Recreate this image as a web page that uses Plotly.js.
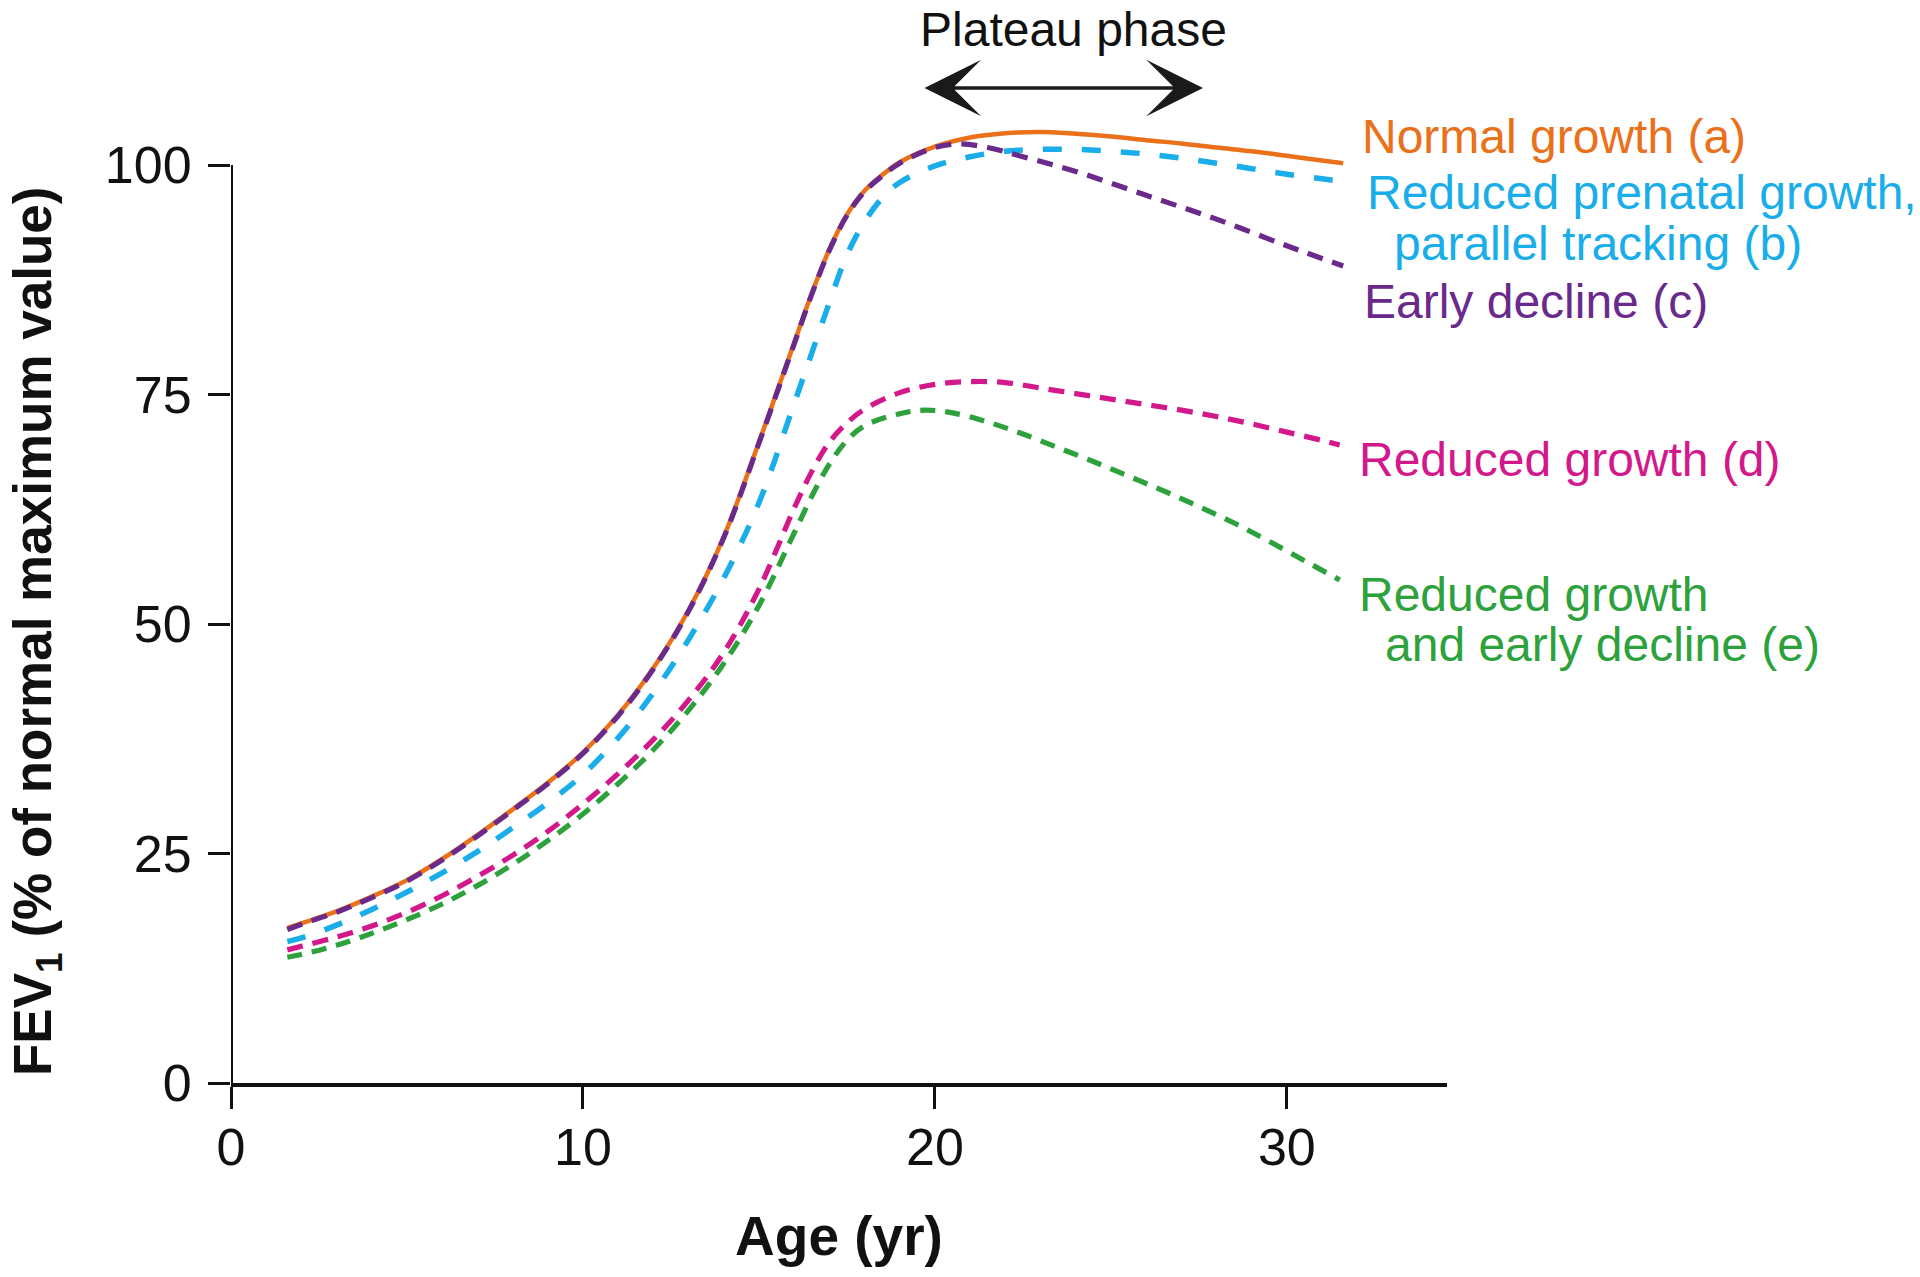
<!DOCTYPE html>
<html>
<head>
<meta charset="utf-8">
<script src="https://cdn.plot.ly/plotly-3.0.1.min.js"></script>
<style>
html,body{margin:0;padding:0;background:#ffffff;}
#chart{width:1920px;height:1277px;}
</style>
</head>
<body>
<div id="chart"></div>
<script>
// ---- data ----
const ageA = [1.6, 2, 3, 4, 5, 6, 7, 8, 9, 10, 11, 12, 13, 14, 15, 16, 16.5, 17, 17.5, 18, 18.5, 19, 20, 21, 22, 23, 24, 25, 26, 27, 28, 29, 30, 31, 31.6];
const fevA = [16.9, 17.4, 18.7, 20.3, 22.1, 24.4, 27.0, 29.8, 32.7, 36.0, 40.1, 45.2, 51.5, 59.5, 69.8, 80.6, 86.0, 90.8, 94.6, 97.2, 98.9, 100.3, 102.0, 103.0, 103.45, 103.6, 103.4, 103.1, 102.7, 102.35, 101.9, 101.5, 101.0, 100.5, 100.2];

const ageB = [1.6, 2, 3, 4, 5, 6, 7, 8, 9, 10, 11, 12, 13, 14, 15, 16, 16.5, 17, 17.5, 18, 18.5, 19, 20, 21, 22, 23, 24, 25, 26, 27, 28, 29, 30, 31, 31.6];
const fevB = [15.4, 15.8, 17.2, 18.9, 20.8, 22.9, 25.2, 27.8, 30.5, 33.6, 37.6, 42.5, 48.3, 55.0, 63.2, 74.0, 79.5, 85.0, 90.2, 93.8, 96.4, 98.1, 99.9, 100.9, 101.5, 101.7, 101.7, 101.5, 101.2, 100.75, 100.2, 99.6, 99.0, 98.5, 98.2];

const ageC = [1.6, 2, 3, 4, 5, 6, 7, 8, 9, 10, 11, 12, 13, 14, 15, 16, 16.5, 17, 17.5, 18, 18.5, 19, 20, 20.7, 21.5, 22.5, 24, 26, 28, 30, 31.6];
const fevC = [16.7, 17.3, 18.6, 20.2, 22.0, 24.3, 26.9, 29.7, 32.6, 35.9, 40.0, 45.1, 51.4, 59.4, 69.7, 80.5, 85.9, 90.7, 94.5, 97.1, 98.8, 100.2, 101.9, 102.3, 101.9, 100.9, 99.3, 96.7, 94.1, 91.2, 89.0];

const ageD = [1.6, 2, 3, 4, 5, 6, 7, 8, 9, 10, 11, 12, 13, 14, 15, 16, 16.5, 17, 17.5, 18, 19, 20, 21, 22, 23, 24, 25, 26, 27, 28, 29, 30, 31, 31.5];
const fevD = [14.5, 14.9, 15.9, 17.1, 18.6, 20.4, 22.5, 24.8, 27.4, 30.4, 33.7, 37.4, 41.7, 46.9, 53.8, 62.6, 66.6, 69.8, 71.9, 73.4, 75.2, 76.1, 76.4, 76.3, 75.7, 75.1, 74.5, 73.9, 73.3, 72.6, 71.8, 70.9, 70.0, 69.5];

const ageE = [1.6, 2, 3, 4, 5, 6, 7, 8, 9, 10, 11, 12, 13, 14, 15, 16, 16.5, 17, 17.5, 18, 19, 19.7, 20.5, 21.5, 22.5, 23.5, 24.5, 25.5, 26.5, 27.5, 28.5, 29.5, 30.5, 31.5];
const fevE = [13.7, 14.0, 15.0, 16.3, 17.8, 19.5, 21.5, 23.8, 26.4, 29.3, 32.6, 36.3, 40.6, 45.7, 52.0, 59.9, 63.9, 67.4, 70.0, 71.6, 72.9, 73.3, 73.0, 72.0, 70.7, 69.2, 67.7, 66.1, 64.5, 62.8, 61.0, 59.0, 56.9, 54.8];

const seriesNames = ["Normal growth (a)", "Reduced prenatal growth, parallel tracking (b)", "Early decline (c)", "Reduced growth (d)", "Reduced growth and early decline (e)"];
const xTicks = [0, 10, 20, 30];
const yTicks = [0, 25, 50, 75, 100];
const plateauLabel = "Plateau phase";
const xTitle = "Age (yr)";
const yTitle = "FEV<sub>1</sub> (% of normal maximum value)";

// ---- styling ----
const FONT = '"Liberation Sans", Arial, Helvetica, sans-serif';
const C_A = '#EA7019', C_B = '#19ADE9', C_C = '#6A2A8C', C_D = '#D3188B', C_E = '#2DA23C';

const M = {l: 231, r: 473, t: 124, b: 194};
const W = 1920, H = 1277;
const PW = W - M.l - M.r, PH = H - M.t - M.b;
const px = x => (x - M.l) / PW;
const py = y => (H - M.b - y) / PH;

function tr(x, y, name, color, dash, width) {
  return {x: x, y: y, name: name, type: 'scatter', mode: 'lines',
    line: {color: color, width: width, dash: dash, shape: 'spline', smoothing: 1},
    hoverinfo: 'skip'};
}

const data = [
  tr(ageA, fevA, seriesNames[0], C_A, 'solid', 4.5),
  tr(ageB, fevB, seriesNames[1], C_B, '19px,20px', 5.5),
  tr(ageC, fevC, seriesNames[2], C_C, '16px,10px', 5.2),
  tr(ageD, fevD, seriesNames[3], C_D, '16px,10px', 5.2),
  tr(ageE, fevE, seriesNames[4], C_E, '15px,10px', 5.2)
];

function lab(text, color, xp, yp) {
  return {text: text, xref: 'paper', yref: 'paper', x: px(xp), y: py(yp),
    xanchor: 'left', yanchor: 'middle', showarrow: false,
    font: {family: FONT, size: 48, color: color}};
}

const annotations = [
  lab("Normal growth (a)", C_A, 1360, 137),
  lab("Reduced prenatal growth,", C_B, 1365, 192),
  lab("parallel tracking (b)", C_B, 1392, 244),
  lab("Early decline (c)", C_C, 1362, 301),
  lab("Reduced growth (d)", C_D, 1357, 459),
  lab("Reduced growth", C_E, 1357, 594),
  lab("and early decline (e)", C_E, 1383, 644),
  {text: plateauLabel, xref: 'paper', yref: 'paper', x: px(1073), y: py(30),
   xanchor: 'center', yanchor: 'middle', showarrow: false,
   font: {family: FONT, size: 48, color: '#111111'}},
  {text: '', xref: 'paper', yref: 'paper', x: px(1203), y: py(88),
   ax: -(1203 - 923), ay: 0, axref: 'pixel', ayref: 'pixel',
   showarrow: true, arrowside: 'end+start', arrowhead: 3, startarrowhead: 3,
   arrowsize: 2.7, startarrowsize: 2.7, arrowwidth: 3.5, arrowcolor: '#1a1a1a',
   standoff: 0, startstandoff: 0},
  {text: '<b>' + yTitle + '</b>', xref: 'paper', yref: 'paper', x: px(36), y: py(632),
   xanchor: 'center', yanchor: 'middle', textangle: -90, showarrow: false,
   font: {family: FONT, size: 53, color: '#111111'}}
];

const layout = {
  width: W, height: H,
  margin: M,
  paper_bgcolor: '#ffffff', plot_bgcolor: '#ffffff',
  showlegend: false,
  font: {family: FONT, color: '#111111'},
  xaxis: {
    range: [0, 34.55], tickvals: xTicks, ticktext: xTicks.map(String),
    showgrid: false, zeroline: false,
    showline: true, linecolor: '#111111', linewidth: 4,
    ticks: 'outside', ticklen: 22, tickwidth: 3, tickcolor: '#111111',
    tickfont: {family: FONT, size: 52, color: '#111111'},
    ticklabelstandoff: -6,
    title: {text: '<b>' + xTitle + '</b>', font: {family: FONT, size: 55, color: '#111111'}, standoff: 42}
  },
  yaxis: {
    range: [0, PH / 9.18], tickvals: yTicks, ticktext: yTicks.map(String),
    showgrid: false, zeroline: false, showline: false,
    ticks: 'outside', ticklen: 22, tickwidth: 3, tickcolor: '#111111',
    tickfont: {family: FONT, size: 52, color: '#111111'},
    ticklabelstandoff: 6
  },
  shapes: [
    {type: 'line', xref: 'x', yref: 'y', x0: 0, x1: 0, y0: 0, y1: 100,
     line: {color: '#111111', width: 4}, layer: 'above'}
  ],
  annotations: annotations
};

Plotly.newPlot('chart', data, layout, {displayModeBar: false, staticPlot: true});
</script>
</body>
</html>
